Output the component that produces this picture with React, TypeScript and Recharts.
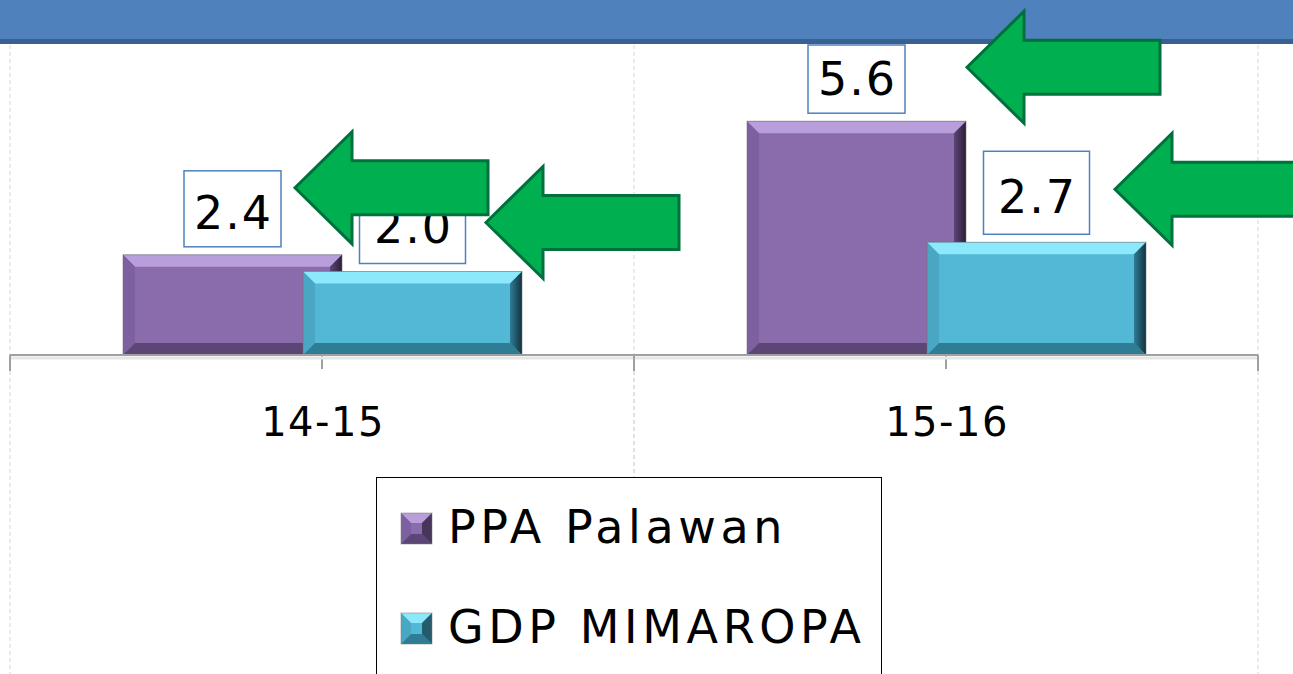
import { BarChart, Bar, XAxis, YAxis, CartesianGrid, Legend, LabelList } from "recharts";

const categories = ["14-15", "15-16"];
const ppaPalawan = [2.4, 5.6];
const gdpMimaropa = [2.0, 2.7];
const seriesNames = ["PPA Palawan", "GDP MIMAROPA"];

const data = categories.map((period, i) => ({
  period,
  ppa: ppaPalawan[i],
  gdp: gdpMimaropa[i],
}));

const WIDTH = 1293;
const HEIGHT = 674;
const MARGIN = { top: 21, right: 35, bottom: 219, left: 10 };
const X_AXIS_H = 100;
const BAND = (WIDTH - MARGIN.left - MARGIN.right) / categories.length;
const BANNER_BOTTOM = 45;
const FONT = "'DejaVu Sans', Verdana, sans-serif";

const PURPLE = { face: "#8A6CAD", top: "#B99EDC", left: "#7C609F", bottom: "#5C4676", edge: "#2B2035" };
const CYAN = { face: "#53B7D6", top: "#8CE9FB", left: "#4AA7C4", bottom: "#2E7D95", edge: "#14333F" };

// arrow tip position relative to the top-right corner of each bar
const ppaArrows = [{ dx: -47, dy: -67 }, { dx: 1, dy: -54 }];
const gdpArrows = [{ dx: -36, dy: -49 }, { dx: -31, dy: -53 }];

function BevelBar(props: any) {
  const { x, y, width: w, height: h, tone, id } = props;
  if (!w || !h) return null;
  const b = Math.min(12, w / 4, h / 4);
  return (
    <g>
      <rect x={x} y={y} width={w} height={h} fill={tone.face} />
      <polygon points={`${x},${y} ${x + w},${y} ${x + w - b},${y + b} ${x + b},${y + b}`} fill={tone.top} />
      <polygon points={`${x},${y} ${x + b},${y + b} ${x + b},${y + h - b} ${x},${y + h}`} fill={tone.left} />
      <polygon points={`${x},${y + h} ${x + w},${y + h} ${x + w - b},${y + h - b} ${x + b},${y + h - b}`} fill={tone.bottom} />
      <polygon points={`${x + w},${y} ${x + w},${y + h} ${x + w - b},${y + h - b} ${x + w - b},${y + b}`} fill={`url(#edge-${id})`} />
      <rect x={x} y={y} width={w} height={h} fill="none" stroke="#6E6E6E" strokeOpacity={0.55} />
    </g>
  );
}

function valueBox(boxW: number, boxH: number, base: number) {
  return (p: any) => {
    const { x, y, width, value } = p;
    const cx = x + width / 2;
    const bottom = y - 8;
    const top = Math.max(bottom - boxH, BANNER_BOTTOM);
    return (
      <g>
        <rect x={cx - boxW / 2} y={top} width={boxW} height={bottom - top} fill="#fff" stroke="#4F81BD" strokeWidth={1.5} />
        <text x={cx + 1} y={bottom - base} textAnchor="middle" fontFamily={FONT} fontSize={46} letterSpacing={2} fill="#000">
          {Number(value).toFixed(1)}
        </text>
      </g>
    );
  };
}

function arrowMark(offsets: { dx: number; dy: number }[]) {
  return (p: any) => {
    const { x, y, width, index } = p;
    const o = offsets[index];
    if (!o) return null;
    const tx = x + width + o.dx;
    const ty = y + o.dy;
    const pts = [
      [tx, ty],
      [tx + 57, ty - 56],
      [tx + 57, ty - 27],
      [tx + 193, ty - 27],
      [tx + 193, ty + 27],
      [tx + 57, ty + 27],
      [tx + 57, ty + 56],
    ]
      .map((q) => q.join(","))
      .join(" ");
    return <polygon points={pts} fill="#00B050" stroke="#00703C" strokeWidth={3} strokeLinejoin="miter" />;
  };
}

function PeriodTick(props: any) {
  const { x, y, payload } = props;
  const axisY = HEIGHT - MARGIN.bottom - X_AXIS_H;
  const edges = [x - BAND / 2, x + BAND / 2];
  return (
    <g>
      <line x1={x - BAND / 2} x2={x + BAND / 2} y1={axisY + 3} y2={axisY + 3} stroke="#E6E6E6" strokeWidth={3} />
      {edges.map((ex) => (
        <g key={ex}>
          <line x1={ex} x2={ex} y1={axisY} y2={axisY + 16} stroke="#A0A0A0" strokeWidth={2} />
          <line x1={ex} x2={ex} y1={axisY + 16} y2={HEIGHT} stroke="#D6D6D6" strokeDasharray="4 3" />
        </g>
      ))}
      <text x={x + 1} y={y + 65} textAnchor="middle" fontFamily={FONT} fontSize={40} letterSpacing={1.5} fill="#000">
        {payload.value}
      </text>
    </g>
  );
}

function Icon({ x, y, tone }: any) {
  const s = 31;
  const b = 10;
  return (
    <g>
      <rect x={x} y={y} width={s} height={s} fill={tone.face} />
      <polygon points={`${x},${y} ${x + s},${y} ${x + s - b},${y + b} ${x + b},${y + b}`} fill={tone.top} />
      <polygon points={`${x},${y} ${x + b},${y + b} ${x + b},${y + s - b} ${x},${y + s}`} fill={tone.left} />
      <polygon points={`${x},${y + s} ${x + s},${y + s} ${x + s - b},${y + s - b} ${x + b},${y + s - b}`} fill={tone.bottom} />
      <polygon points={`${x + s},${y} ${x + s},${y + s} ${x + s - b},${y + s - b} ${x + s - b},${y + b}`} fill={tone.edge} opacity={0.7} />
      <rect x={x} y={y} width={s} height={s} fill="none" stroke="#777" strokeOpacity={0.5} />
    </g>
  );
}

function LegendBox() {
  const tones = [PURPLE, CYAN];
  return (
    <svg width={504} height={210} style={{ display: "block" }}>
      {seriesNames.map((name, i) => (
        <g key={name}>
          <Icon x={24} y={35 + i * 100} tone={tones[i]} />
          <text x={71} y={65 + i * 100} fontFamily={FONT} fontSize={46} letterSpacing={4.6} fill="#000">
            {name}
          </text>
        </g>
      ))}
    </svg>
  );
}

export default function App() {
  return (
    <div style={{ position: "fixed", left: 0, top: 0, width: WIDTH, height: HEIGHT, overflow: "hidden", background: "#fff" }}>
      <div style={{ position: "absolute", left: 0, top: 0, width: WIDTH, height: 39, background: "#4F81BD", borderBottom: "5px solid #3A6090" }} />
      <BarChart width={WIDTH} height={HEIGHT} data={data} margin={MARGIN} barSize={219} barGap={-39}>
        <defs>
          {[["ppa", PURPLE], ["gdp", CYAN]].map(([id, tone]: any) => (
            <linearGradient key={id} id={`edge-${id}`} x1="0" y1="0" x2="1" y2="0">
              <stop offset="0%" stopColor={tone.bottom} />
              <stop offset="100%" stopColor={tone.edge} />
            </linearGradient>
          ))}
        </defs>
        <CartesianGrid
          horizontal={false}
          stroke="#D6D6D6"
          strokeDasharray="4 3"
          verticalCoordinatesGenerator={({ offset }: any) =>
            [0, 1, 2].map((i) => offset.left + (i * offset.width) / categories.length).map((v) => v)
          }
          y={BANNER_BOTTOM}
          height={HEIGHT - MARGIN.bottom - X_AXIS_H - BANNER_BOTTOM}
        />
        <XAxis
          dataKey="period"
          interval={0}
          height={X_AXIS_H}
          tickSize={14}
          axisLine={{ stroke: "#A0A0A0", strokeWidth: 2 }}
          tickLine={{ stroke: "#A0A0A0", strokeWidth: 2 }}
          tick={<PeriodTick />}
        />
        <YAxis hide domain={[0, 8]} />
        <Legend
          layout="vertical"
          align="center"
          verticalAlign="middle"
          content={() => <LegendBox />}
          wrapperStyle={{ left: 376, top: 477, width: 504, height: 210, border: "1.5px solid #000", background: "#fff" }}
        />
        <Bar dataKey="ppa" name={seriesNames[0]} isAnimationActive={false} shape={(p: any) => <BevelBar {...p} tone={PURPLE} id="ppa" />}>
          <LabelList dataKey="ppa" content={valueBox(97, 76, 18)} />
          <LabelList dataKey="ppa" content={arrowMark(ppaArrows)} zIndex={2100} />
        </Bar>
        <Bar dataKey="gdp" name={seriesNames[1]} isAnimationActive={false} shape={(p: any) => <BevelBar {...p} tone={CYAN} id="gdp" />}>
          <LabelList dataKey="gdp" content={valueBox(106, 83, 21)} />
          <LabelList dataKey="gdp" content={arrowMark(gdpArrows)} zIndex={2100} />
        </Bar>
      </BarChart>
    </div>
  );
}
